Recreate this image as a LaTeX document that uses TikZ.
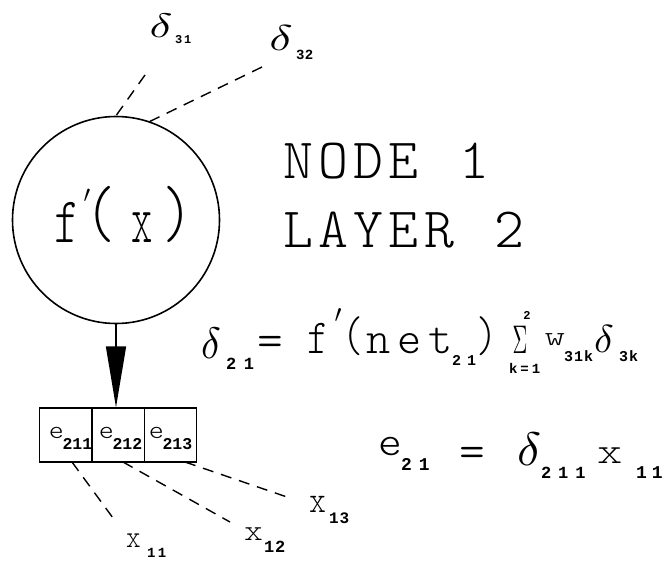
\documentclass[tikz,border=0pt]{standalone}
\usepackage{fontspec}
\newfontfamily\subfont{Liberation Mono}
\usetikzlibrary{arrows.meta}
\makeatletter
\newcommand\lspc[2]{\def\lspc@sk{\hspace*{#1}}\lspc@a#2\lspc@end}
\def\lspc@end{\lspc@end}
\def\lspc@a#1{\ifx#1\lspc@end\else#1\lspc@sk\expandafter\lspc@a\fi}
\makeatother
% light mono text: size, hscale, text
\newcommand\mt[3]{\scalebox{#2}[1]{\ttfamily\fontseries{l}\fontsize{#1}{#1}\selectfont #3}}
% light mono with letter spacing: size, extra space, text
\newcommand\ml[3]{{\ttfamily\fontseries{l}\fontsize{#1}{#1}\selectfont\lspc{#2}{#3}}}
% bold subscript with letter spacing: size, extra space, text
\newcommand\mb[3]{{\subfont\bfseries\fontsize{#1}{#1}\selectfont\lspc{#2}{#3}}}
% math symbol scaled from 10pt: xfactor, yfactor, symbol
\newcommand\ms[3]{{\fontsize{10}{12}\selectfont\scalebox{#1}[#2]{$#3$}}}
\tikzset{
  txt/.style={inner sep=0pt, outer sep=0pt, anchor=base},
  txtw/.style={inner sep=0pt, outer sep=0pt, anchor=base west},
  txtc/.style={inner sep=0pt, outer sep=0pt, anchor=center},
  dashln/.style={line width=1.4pt, dash pattern=on 11pt off 8pt},
  cellbox/.style={draw, line width=1.3pt, minimum width=52.3pt, minimum height=54pt, inner sep=0pt},
  nodecirc/.style={circle, draw, line width=1.6pt, minimum size=207pt, inner sep=0pt},
}
\begin{document}
\begin{tikzpicture}[x=1pt,y=-1pt]
\useasboundingbox (0,0) rectangle (668,562);
% main node
\node[nodecirc] (n) at (116,220) {};
\node[txt] (cf) at (67,242) {\mt{65}{0.74}{f}};
\node[txtc] (cp) at (87,196) {\ms{2.4}{2.4}{\prime}};
\node[txt] (clp) at (101,236) {\mt{72}{0.8}{(}};
\node[txt] (cx) at (142,242) {\mt{70}{0.58}{x}};
\node[txt] (crp) at (178,236) {\mt{72}{0.8}{)}};
% top labels
\node[txt] (d31) at (161,37) {\ms{4.76}{3.4}{\delta}};
\node[txtw] (d31s) at (175,43) {\mb{12}{1.8pt}{31}};
\node[txt] (d32) at (281,50) {\ms{4.86}{3.6}{\delta}};
\node[txtw] (d32s) at (296,59) {\mb{14}{0.6pt}{32}};
\coordinate (t31) at (145,75);
\coordinate (t32) at (262,67);
\draw[dashln] (t31) -- (n.90);
\draw[dashln] (t32) -- (n.71.7);
% titles
\node[txtw] (title1) at (283,178) {\ml{57}{5.4pt}{NODE~1}};
\node[txtw] (title2) at (283,247) {\ml{57}{5.4pt}{LAYER~2}};
% equation 1
\node[txt] (q1d) at (211,358) {\ms{4.1}{4.4}{\delta}};
\node[txtw] (q1ds) at (226,369) {\mb{17}{7.8pt}{21}};
\node[txt] (q1eq) at (270,356) {\mt{49}{1}{=}};
\node[txt] (q1f) at (318,353) {\mt{49}{0.83}{f}};
\node[txtc] (q1p) at (338,316) {\ms{2.5}{2.5}{\prime}};
\node[txt] (q1lp) at (353,351) {\mt{50}{0.8}{(}};
\node[txtw] (q1net) at (366,353) {\ml{46}{7pt}{net}};
\node[txtw] (q1ns) at (452,365) {\mb{15}{6pt}{21}};
\node[txt] (q1rp) at (487,351) {\mt{50}{0.8}{)}};
\node[txt] (q1sum) at (520,353) {\ms{2.05}{4.0}{\Sigma}};
\node[txt] (q1top) at (527,319) {\mb{12}{0pt}{2}};
\node[txtw] (q1bot) at (509,373) {\mb{14}{3pt}{k=1}};
\node[txt] (q1w) at (555,345) {\mt{28}{1.4}{w}};
\node[txtw] (q1ws) at (564,361) {\mb{15}{1pt}{31k}};
\node[txt] (q1d2) at (604,352) {\ms{4.1}{3.9}{\delta}};
\node[txtw] (q1d2s) at (619,361) {\mb{15}{1pt}{3k}};
% equation 2
\node[txt] (q2e) at (390,455) {\mt{42}{1.08}{e}};
\node[txtw] (q2es) at (401,470) {\mb{18}{7pt}{21}};
\node[txt] (q2eq) at (472,467) {\mt{49}{1}{=}};
\node[txt] (q2d) at (529,465) {\ms{4.98}{4.7}{\delta}};
\node[txtw] (q2ds) at (541,478) {\mb{17}{7pt}{211}};
\node[txt] (q2x) at (610,463) {\mt{37}{1.3}{x}};
\node[txtw] (q2xs) at (636,478) {\mb{18}{5pt}{11}};
% error cells
\node[cellbox] (c1) at (65.75,435) {};
\node[cellbox] (c2) at (118.05,435) {};
\node[cellbox] (c3) at (170.35,435) {};
\node[txt] (c1e) at (56.5,438) {\mt{26}{1.1}{e}};
\node[txtw] (c1s) at (62.5,449) {\mb{16.5}{0pt}{211}};
\node[txt] (c2e) at (106.5,438) {\mt{26}{1.1}{e}};
\node[txtw] (c2s) at (112.5,449) {\mb{16.5}{0pt}{212}};
\node[txt] (c3e) at (156.5,438) {\mt{26}{1.1}{e}};
\node[txtw] (c3s) at (162.5,449) {\mb{16.5}{0pt}{213}};
% arrow
\draw[line width=1.5pt, -{Triangle[length=61pt,width=20pt]}] (n.south) -- (n.south |- c2.north);
% inputs
\node[txt] (x11) at (133.5,547) {\mt{32}{0.87}{x}};
\node[txtw] (x11s) at (147,557) {\mb{14}{2.6pt}{11}};
\node[txt] (x12) at (253.5,540) {\mt{30}{1.2}{x}};
\node[txtw] (x12s) at (264,552) {\mb{17}{0.8pt}{12}};
\node[txt] (x13) at (317.5,512) {\mt{38}{0.85}{x}};
\node[txtw] (x13s) at (329,523) {\mb{16}{1pt}{13}};
\coordinate (b11) at (72,462);
\coordinate (b12) at (123,462);
\coordinate (b13) at (185,462);
\coordinate (e11) at (113,518);
\coordinate (e12) at (230,522);
\coordinate (e13) at (287,497);
\draw[dashln] (b11) -- (e11);
\draw[dashln] (b12) -- (e12);
\draw[dashln] (b13) -- (e13);
\end{tikzpicture}
\end{document}
